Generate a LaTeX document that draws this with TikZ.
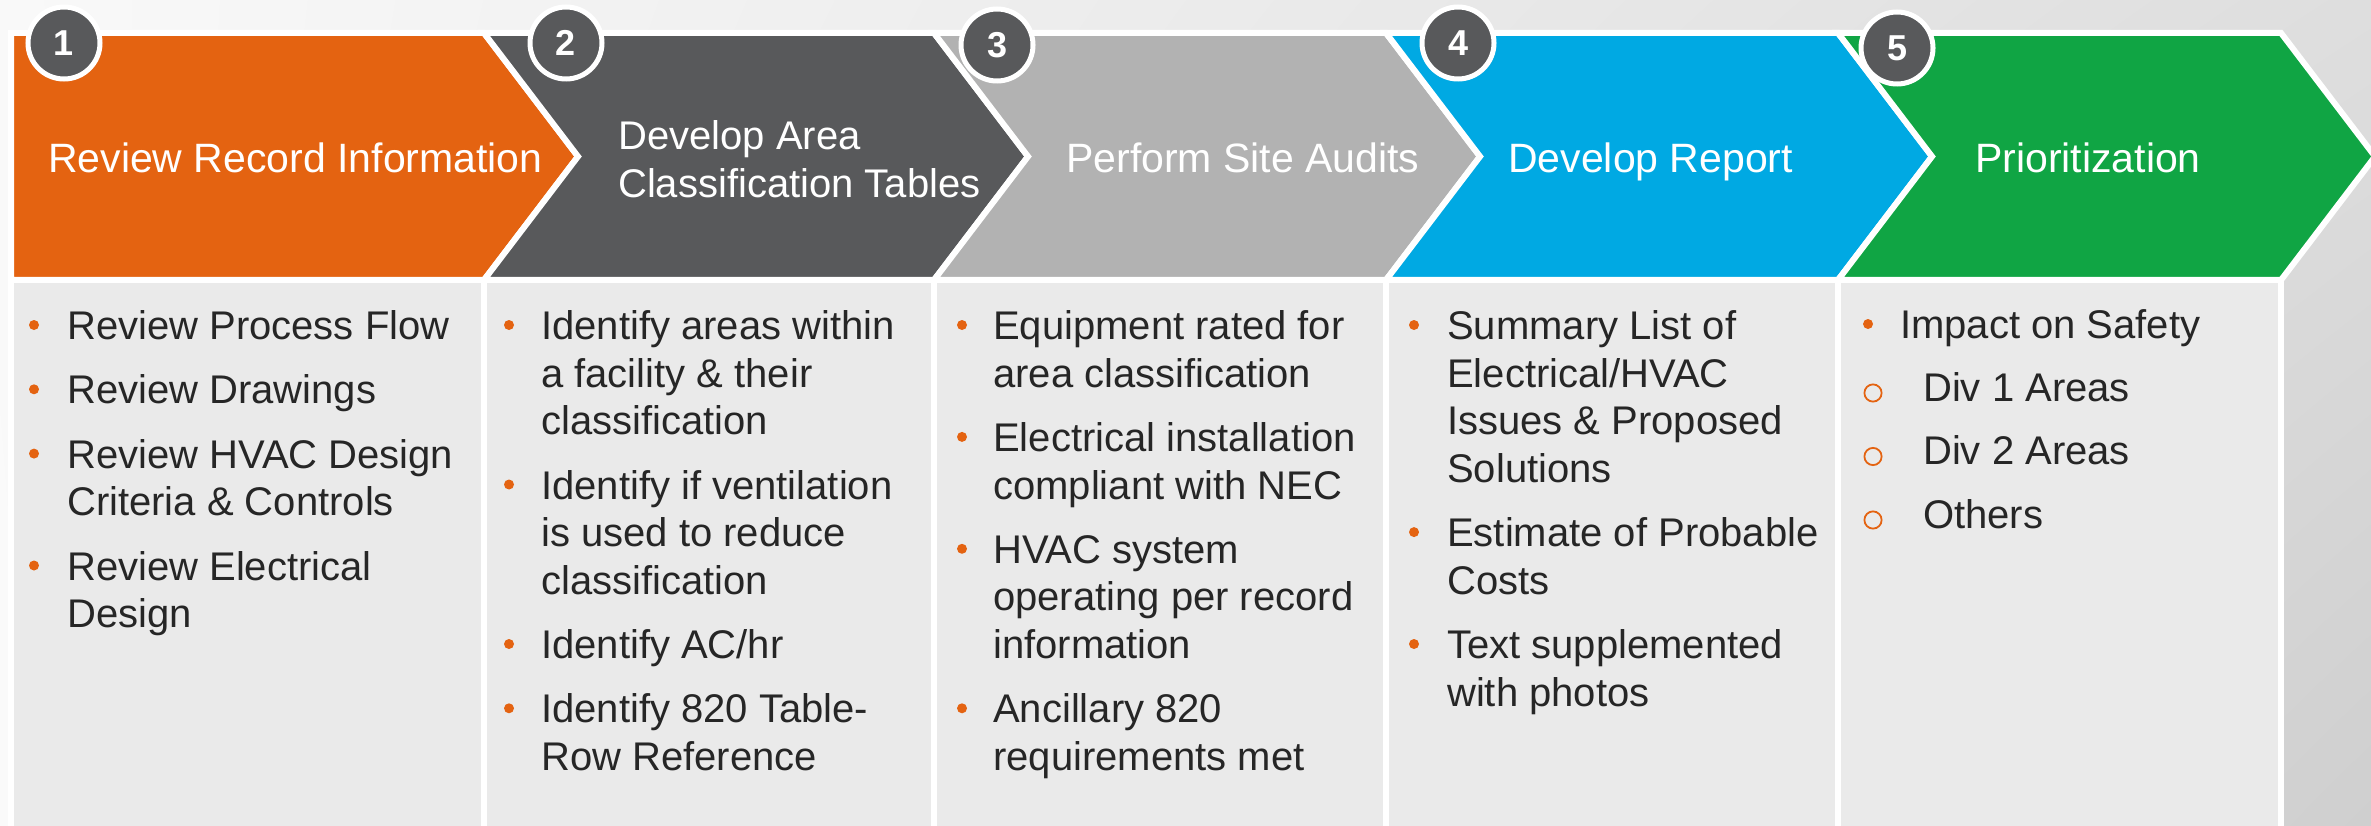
\documentclass[tikz,border=0pt]{standalone}
\usepackage{fontspec}
\setmainfont{Liberation Sans}
\usetikzlibrary{shadings}

\definecolor{stepOrange}{HTML}{E46311}
\definecolor{stepDark}{HTML}{58595B}
\definecolor{stepSilver}{HTML}{B2B2B2}
\definecolor{stepBlue}{HTML}{00A9E3}
\definecolor{stepGreen}{HTML}{10A544}
\definecolor{panelFill}{HTML}{EAEAEA}
\definecolor{bodyText}{HTML}{262626}
\definecolor{bgA}{HTML}{F9F9F9}
\definecolor{bgB}{HTML}{DEDEDE}
\definecolor{bgC}{HTML}{FAFAFA}
\definecolor{bgD}{HTML}{CFCFCF}

% a ragged block whose baseline is that of its first line
\newcommand\linesblock[1]{\parbox[t]{430pt}{\raggedright #1}}

\tikzset{
  chev/.style={draw=white, line width=6pt, line join=miter},
  panel/.style={fill=panelFill, draw=white, line width=6pt},
  badge/.style={circle, fill=stepDark, draw=white, line width=5pt,
    minimum size=72pt, inner sep=0pt, text=white,
    font=\fontsize{36}{36}\selectfont\bfseries},
  head/.style={anchor=base west, inner sep=0pt, text=white,
    font=\fontsize{41}{48}\selectfont},
  entry/.style={anchor=base west, inner sep=0pt, text=bodyText,
    font=\fontsize{40}{47.6}\selectfont},
  dot/.style={circle, fill=stepOrange, minimum size=10pt, inner sep=0pt},
  ring/.style={circle, draw=stepOrange, line width=1.8pt,
    minimum size=17.2pt, inner sep=0pt},
}

\begin{document}
\begin{tikzpicture}[x=1pt, y=-1pt]
  \clip (0,0) rectangle (2371,826);
  % backdrop
  \shade[upper left=bgA, upper right=bgB, lower left=bgC, lower right=bgD]
    (0,0) rectangle (2371,826);

  % detail panels
  \draw[panel] (11,280) rectangle (484,840);
  \draw[panel] (484,280) rectangle (934,840);
  \draw[panel] (934,280) rectangle (1386,840);
  \draw[panel] (1386,280) rectangle (1838,840);
  \draw[panel] (1838,280) rectangle (2281,840);

  % chevron headers
  \fill[stepOrange, chev] (11,33) -- (484,33) -- (578,156.5) -- (484,280) -- (11,280) -- cycle;
  \fill[stepDark, chev] (484,33) -- (934,33) -- (1028,156.5) -- (934,280) -- (484,280) -- (578,156.5) -- cycle;
  \fill[stepSilver, chev] (934,33) -- (1386,33) -- (1480,156.5) -- (1386,280) -- (934,280) -- (1028,156.5) -- cycle;
  \fill[stepBlue, chev] (1386,33) -- (1838,33) -- (1932,156.5) -- (1838,280) -- (1386,280) -- (1480,156.5) -- cycle;
  \fill[stepGreen, chev] (1838,33) -- (2281,33) -- (2375,156.5) -- (2281,280) -- (1838,280) -- (1932,156.5) -- cycle;

  % header titles
  \node[head] (h1) at (48,173) {Review Record Information};
  \node[head, font=\fontsize{40}{48}\selectfont] (h2) at (618,150)
    {\linesblock{Develop Area\\Classification Tables}};
  \node[head] (h3) at (1066,173) {Perform Site Audits};
  \node[head] (h4) at (1508,173) {Develop Report};
  \node[head] (h5) at (1975,173) {Prioritization};

  % step numbers
  \node[badge] (n1) at (64,43) {1};
  \node[badge] (n2) at (566,43) {2};
  \node[badge] (n3) at (997,45) {3};
  \node[badge] (n4) at (1458,43) {4};
  \node[badge] (n5) at (1897,48) {5};

  % panel 1
  \node[dot] (d11) at (34,325) {};
  \node[entry] (t11) at (67,339.5) {\linesblock{Review Process Flow}};
  \node[dot] (d12) at (34,389.3) {};
  \node[entry] (t12) at (67,403.8) {\linesblock{Review Drawings}};
  \node[dot] (d13) at (34,453.6) {};
  \node[entry] (t13) at (67,468.1) {\linesblock{Review HVAC Design\\Criteria \& Controls}};
  \node[dot] (d14) at (34,565.5) {};
  \node[entry] (t14) at (67,580) {\linesblock{Review Electrical\\Design}};

  % panel 2
  \node[dot] (d21) at (509,325) {};
  \node[entry] (t21) at (541,339.5) {\linesblock{Identify areas within\\a facility \& their\\classification}};
  \node[dot] (d22) at (509,484.5) {};
  \node[entry] (t22) at (541,499) {\linesblock{Identify if ventilation\\is used to reduce\\classification}};
  \node[dot] (d23) at (509,644) {};
  \node[entry] (t23) at (541,658.5) {\linesblock{Identify AC/hr}};
  \node[dot] (d24) at (509,708.3) {};
  \node[entry] (t24) at (541,722.8) {\linesblock{Identify 820 Table-\\Row Reference}};

  % panel 3
  \node[dot] (d31) at (962,325) {};
  \node[entry] (t31) at (993,339.5) {\linesblock{Equipment rated for\\area classification}};
  \node[dot] (d32) at (962,436.9) {};
  \node[entry] (t32) at (993,451.4) {\linesblock{Electrical installation\\compliant with NEC}};
  \node[dot] (d33) at (962,548.8) {};
  \node[entry] (t33) at (993,563.3) {\linesblock{HVAC system\\operating per record\\information}};
  \node[dot] (d34) at (962,708.3) {};
  \node[entry] (t34) at (993,722.8) {\linesblock{Ancillary 820\\requirements met}};

  % panel 4
  \node[dot] (d41) at (1414,325) {};
  \node[entry] (t41) at (1447,339.5) {\linesblock{Summary List of\\Electrical/HVAC\\Issues \& Proposed\\Solutions}};
  \node[dot] (d42) at (1414,532.1) {};
  \node[entry] (t42) at (1447,546.6) {\linesblock{Estimate of Probable\\Costs}};
  \node[dot] (d43) at (1414,644) {};
  \node[entry] (t43) at (1447,658.5) {\linesblock{Text supplemented\\with photos}};

  % panel 5
  \node[dot] (d51) at (1868,324) {};
  \node[entry] (t51) at (1900,338) {\linesblock{Impact on Safety}};
  \node[ring] (r52) at (1873,393) {};
  \node[entry] (t52) at (1923,401) {\linesblock{Div 1 Areas}};
  \node[ring] (r53) at (1873,456.5) {};
  \node[entry] (t53) at (1923,464.5) {\linesblock{Div 2 Areas}};
  \node[ring] (r54) at (1873,520) {};
  \node[entry] (t54) at (1923,528) {\linesblock{Others}};
\end{tikzpicture}
\end{document}
